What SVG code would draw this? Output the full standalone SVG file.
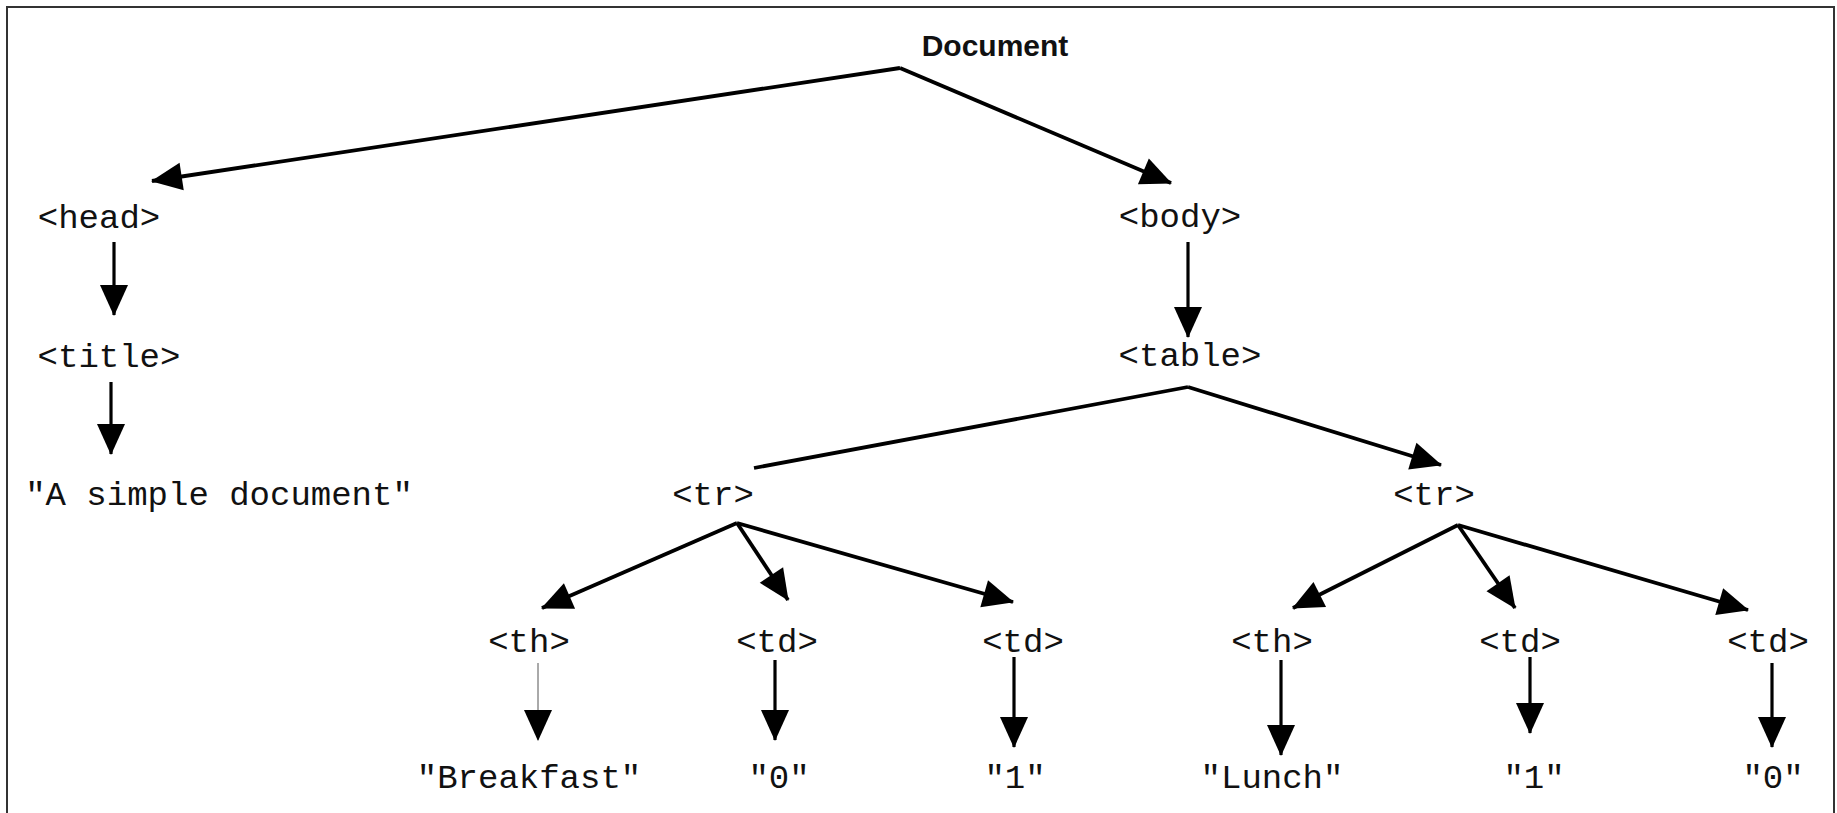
<svg xmlns="http://www.w3.org/2000/svg" width="1837" height="813" viewBox="0 0 1837 813">
<style>
.m{font-family:"Liberation Mono","Courier New",monospace;font-size:34px;fill:#111;text-anchor:middle}
.b{font-family:"Liberation Sans",Arial,sans-serif;font-size:30px;font-weight:bold;fill:#111;text-anchor:middle}
.e{stroke:#000;stroke-width:3.8;fill:none;marker-end:url(#ah)}
.v{stroke:#000;stroke-width:3.2;fill:none;marker-end:url(#ah)}
</style>
<defs>
<marker id="ah" markerUnits="userSpaceOnUse" markerWidth="32" markerHeight="29" refX="30" refY="14" orient="auto" overflow="visible">
<path d="M0,0 L31,14 L0,28 z" fill="#000"/>
</marker>
</defs>
<rect width="1837" height="813" fill="#fff"/>
<path d="M7,813 V7 H1834 V813" fill="none" stroke="#333" stroke-width="2"/>
<g id="connectors">
<line class="e" x1="900" y1="68" x2="152" y2="181"/>
<line class="e" x1="900" y1="68" x2="1171" y2="183"/>
<line class="v" x1="114" y1="242" x2="114" y2="315"/>
<line class="v" x1="111" y1="382" x2="111" y2="454"/>
<line class="v" x1="1188" y1="242" x2="1188" y2="337"/>
<line x1="1188" y1="387" x2="754" y2="468" stroke="#000" stroke-width="3.8"/>
<line class="e" x1="1188" y1="387" x2="1441" y2="465"/>
<line class="e" x1="737" y1="523" x2="542" y2="608"/>
<line class="e" x1="737" y1="523" x2="788" y2="600"/>
<line class="e" x1="737" y1="523" x2="1013" y2="602"/>
<line x1="538" y1="663" x2="538" y2="740" stroke="#555" stroke-width="1" marker-end="url(#ah)"/>
<line class="v" x1="775" y1="660" x2="775" y2="740"/>
<line class="v" x1="1014" y1="657" x2="1014" y2="747"/>
<line class="e" x1="1458" y1="525" x2="1293" y2="608"/>
<line class="e" x1="1458" y1="525" x2="1515" y2="608"/>
<line class="e" x1="1458" y1="525" x2="1748" y2="610"/>
<line class="v" x1="1281" y1="660" x2="1281" y2="755"/>
<line class="v" x1="1530" y1="657" x2="1530" y2="733"/>
<line class="v" x1="1772" y1="663" x2="1772" y2="747"/>
</g>
<g id="document"><text class="b" x="995" y="56">Document</text></g>
<g id="head"><text class="m" x="99" y="228">&lt;head&gt;</text></g>
<g id="body"><text class="m" x="1180" y="227">&lt;body&gt;</text></g>
<g id="title"><text class="m" x="109" y="367">&lt;title&gt;</text></g>
<g id="table"><text class="m" x="1190" y="366">&lt;table&gt;</text></g>
<g id="title-text"><text class="m" x="219" y="505">"A simple document"</text></g>
<g id="tr1"><text class="m" x="713" y="505">&lt;tr&gt;</text></g>
<g id="tr2"><text class="m" x="1434" y="505">&lt;tr&gt;</text></g>
<g id="th1"><text class="m" x="529" y="652">&lt;th&gt;</text></g>
<g id="td1"><text class="m" x="777" y="652">&lt;td&gt;</text></g>
<g id="td2"><text class="m" x="1023" y="652">&lt;td&gt;</text></g>
<g id="th2"><text class="m" x="1272" y="652">&lt;th&gt;</text></g>
<g id="td3"><text class="m" x="1520" y="652">&lt;td&gt;</text></g>
<g id="td4"><text class="m" x="1768" y="652">&lt;td&gt;</text></g>
<g id="breakfast"><text class="m" x="529" y="788">"Breakfast"</text></g>
<g id="v0a"><text class="m" x="779" y="788">"0"</text></g>
<g id="v1a"><text class="m" x="1015" y="788">"1"</text></g>
<g id="lunch"><text class="m" x="1272" y="788">"Lunch"</text></g>
<g id="v1b"><text class="m" x="1534" y="788">"1"</text></g>
<g id="v0b"><text class="m" x="1773" y="788">"0"</text></g>
</svg>
